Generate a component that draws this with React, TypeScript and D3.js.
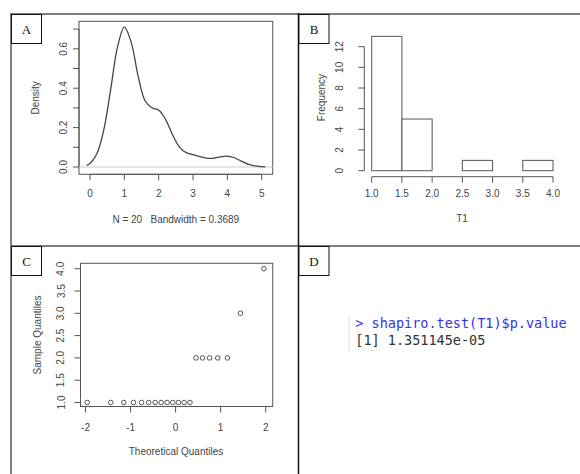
import React from 'react';
import * as d3 from 'd3';

// sample T1
const densityX = [-0.1, 0, 0.2, 0.4, 0.6, 0.8, 1.0, 1.2, 1.4, 1.6, 1.8, 2.0, 2.2, 2.4, 2.6, 2.8, 3.0, 3.2, 3.4, 3.6, 3.8, 4.0, 4.2, 4.4, 4.6, 4.8, 5.0, 5.1];
const densityY = [0.0082, 0.0178, 0.0669, 0.1873, 0.3907, 0.6082, 0.7098, 0.6325, 0.4625, 0.3375, 0.3006, 0.2896, 0.2421, 0.1651, 0.1022, 0.0727, 0.0623, 0.0532, 0.0446, 0.0445, 0.0518, 0.0554, 0.0470, 0.0301, 0.0144, 0.0052, 0.0014, 0.0006];
const densityXTicks = [0, 1, 2, 3, 4, 5];
const densityYTicks = [0, 0.1, 0.2, 0.3, 0.4, 0.5, 0.6, 0.7];
const densityYLabels = ['0.0', '', '0.2', '', '0.4', '', '0.6', ''];

const histBreaks = [1.0, 1.5, 2.0, 2.5, 3.0, 3.5, 4.0];
const histCounts = [13, 5, 0, 1, 0, 1];
const histXLabels = ['1.0', '1.5', '2.0', '2.5', '3.0', '3.5', '4.0'];
const histYTicks = [0, 2, 4, 6, 8, 10, 12];

const qqTheoretical = [-1.96, -1.44, -1.15, -0.935, -0.755, -0.598, -0.454, -0.319, -0.189, -0.063, 0.063, 0.189, 0.319, 0.454, 0.598, 0.755, 0.935, 1.15, 1.44, 1.96];
const qqSample = [1, 1, 1, 1, 1, 1, 1, 1, 1, 1, 1, 1, 1, 2, 2, 2, 2, 2, 3, 4];
const qqXTicks = [-2, -1, 0, 1, 2];
const qqYTicks = [1.0, 1.5, 2.0, 2.5, 3.0, 3.5, 4.0];

const consoleLines = ['> shapiro.test(T1)$p.value', '[1] 1.351145e-05'];

const txt = '#444';
const ln = '#555';
const font = '"Liberation Sans", Arial, sans-serif';
const TICK = 6;

const YLabel = ({ x, y, t }: { x: number; y: number; t: string }) => (
  <text x={x} y={y} transform={`rotate(-90 ${x} ${y})`} textAnchor="middle"
    dominantBaseline="central" fontSize={10} fill={txt}>{t}</text>
);

const App = () => {
  // panel A: density
  const xA = d3.scaleLinear().domain([0, 5]).range([90, 261.7]);
  const yA = d3.scaleLinear().domain([0, 0.7]).range([167, 29.1]);
  const densPath = d3.line<number>()
    .x((d, i) => xA(densityX[i]))
    .y(d => yA(d))
    .curve(d3.curveCatmullRom)(densityY);

  // panel B: histogram
  const xB = d3.scaleLinear().domain([1, 4]).range([371.7, 553]);
  const yB = d3.scaleLinear().domain([0, 12]).range([170.7, 46.7]);

  // panel C: qq plot
  const xC = d3.scaleLinear().domain([-2, 2]).range([85.5, 265.7]);
  const yC = d3.scaleLinear().domain([1, 4]).range([402.5, 268.7]);

  return (
    <svg width={580} height={474} style={{ position: 'absolute', left: 0, top: 0, display: 'block' }}
      fontFamily={font}>
      <rect width={580} height={474} fill="#fff" />

      {/* table grid */}
      <line x1={11} x2={580} y1={14} y2={14} stroke="#808080" strokeWidth={2} />
      <line x1={11} x2={11} y1={13} y2={474} stroke="#808080" strokeWidth={2} />
      <line x1={11} x2={580} y1={246} y2={246} stroke="#808080" strokeWidth={2} />
      <line x1={298.5} x2={298.5} y1={13} y2={474} stroke="#111" strokeWidth={1.5} />

      {/* panel letters */}
      {[['A', 11, 14], ['B', 298.5, 14], ['C', 11, 246], ['D', 298.5, 246]].map(([l, x, y]) => (
        <g key={l as string}>
          <rect x={(x as number) + 0.5} y={(y as number) + 0.5} width={30} height={29} fill="#fff" stroke="#111" strokeWidth={1} />
          <text x={(x as number) + 15.5} y={(y as number) + 15.5} textAnchor="middle" dominantBaseline="central"
            fontFamily='"Liberation Serif", serif' fontSize={13} fill="#111">{l}</text>
        </g>
      ))}

      {/* A */}
      <rect x={79} y={21.3} width={193.7} height={153} fill="none" stroke={ln} />
      <line x1={79} x2={272.7} y1={yA(0)} y2={yA(0)} stroke="#ccc" />
      <path d={densPath || ''} fill="none" stroke="#444" strokeWidth={1.3} />
      <line x1={79} x2={79} y1={yA(0)} y2={yA(0.7)} stroke={ln} />
      {densityYTicks.map((t, i) => (
        <g key={t}>
          <line x1={79 - TICK} x2={79} y1={yA(t)} y2={yA(t)} stroke={ln} />
          {densityYLabels[i] && <YLabel x={63.5} y={yA(t)} t={densityYLabels[i]} />}
        </g>
      ))}
      <line x1={xA(0)} x2={xA(5)} y1={174.3} y2={174.3} stroke={ln} />
      {densityXTicks.map(t => (
        <g key={t}>
          <line x1={xA(t)} x2={xA(t)} y1={174.3} y2={174.3 + TICK} stroke={ln} />
          <text x={xA(t)} y={193.3} textAnchor="middle" dominantBaseline="central" fontSize={10} fill={txt}>{t}</text>
        </g>
      ))}
      <text x={175.8} y={219} textAnchor="middle" dominantBaseline="central" fontSize={10} fill={txt}
        style={{ whiteSpace: 'pre' }}>{'N = 20   Bandwidth = 0.3689'}</text>
      <YLabel x={36} y={97.8} t="Density" />

      {/* B */}
      {histCounts.map((c, i) => (
        <rect key={i} x={xB(histBreaks[i])} y={yB(c)} width={xB(histBreaks[i + 1]) - xB(histBreaks[i])}
          height={yB(0) - yB(c)} fill="#fff" stroke={ln} />
      ))}
      <line x1={364.3} x2={364.3} y1={yB(0)} y2={yB(12)} stroke={ln} />
      {histYTicks.map(t => (
        <g key={t}>
          <line x1={364.3 - TICK} x2={364.3} y1={yB(t)} y2={yB(t)} stroke={ln} />
          <YLabel x={340} y={yB(t)} t={String(t)} />
        </g>
      ))}
      <line x1={xB(1)} x2={xB(4)} y1={176.7} y2={176.7} stroke={ln} />
      {histBreaks.map((t, i) => (
        <g key={t}>
          <line x1={xB(t)} x2={xB(t)} y1={176.7} y2={176.7 + TICK} stroke={ln} />
          <text x={xB(t)} y={193} textAnchor="middle" dominantBaseline="central" fontSize={10} fill={txt}>{histXLabels[i]}</text>
        </g>
      ))}
      <text x={462} y={218} textAnchor="middle" dominantBaseline="central" fontSize={10} fill={txt}>T1</text>
      <YLabel x={321.7} y={97.5} t="Frequency" />

      {/* C */}
      <rect x={80.5} y={263.3} width={192.2} height={143.2} fill="none" stroke={ln} />
      {qqTheoretical.map((q, i) => (
        <circle key={i} cx={xC(q)} cy={yC(qqSample[i])} r={2.3} fill="none" stroke="#444" strokeWidth={0.9} />
      ))}
      <line x1={80.5} x2={80.5} y1={yC(1)} y2={yC(4)} stroke={ln} />
      {qqYTicks.map(t => (
        <g key={t}>
          <line x1={80.5 - TICK} x2={80.5} y1={yC(t)} y2={yC(t)} stroke={ln} />
          <YLabel x={61} y={yC(t)} t={t.toFixed(1)} />
        </g>
      ))}
      <line x1={xC(-2)} x2={xC(2)} y1={406.5} y2={406.5} stroke={ln} />
      {qqXTicks.map(t => (
        <g key={t}>
          <line x1={xC(t)} x2={xC(t)} y1={406.5} y2={406.5 + TICK} stroke={ln} />
          <text x={xC(t)} y={427.7} textAnchor="middle" dominantBaseline="central" fontSize={10} fill={txt}>{t}</text>
        </g>
      ))}
      <text x={176} y={451} textAnchor="middle" dominantBaseline="central" fontSize={10} fill={txt}>Theoretical Quantiles</text>
      <YLabel x={37.3} y={335} t="Sample Quantiles" />

      {/* D */}
      <line x1={349} x2={349} y1={316.7} y2={352} stroke="#ddd" />
      <rect x={371.5} y={349.5} width={1} height={2} fill="#bbb" />
      {consoleLines.map((s, i) => (
        <text key={i} x={355.3} y={328.3 + i * 17} fontFamily='"DejaVu Sans Mono", monospace' fontSize={13.5}
          fill={i === 0 ? '#3333ee' : '#333'} style={{ whiteSpace: 'pre' }}>{s}</text>
      ))}
    </svg>
  );
};

export default App;
